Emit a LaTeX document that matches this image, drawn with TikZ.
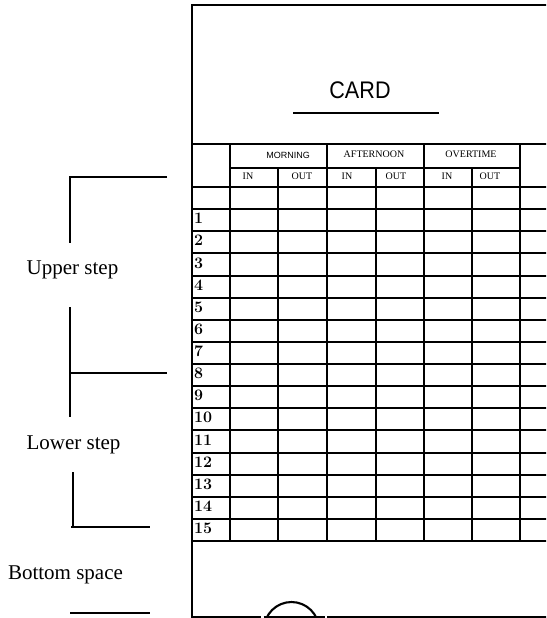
\documentclass[tikz,border=0pt]{standalone}
\usepackage{fontspec}
\newfontfamily\timesfont{Liberation Serif}
\newfontfamily\arialfont{Liberation Sans}
\tikzset{
  rule/.style={black, line width=2.1pt},
  bracket/.style={black, line width=1.3pt},
  sidelabel/.style={anchor=base, inner sep=0, font=\timesfont\fontsize{21}{24}\selectfont},
  headlabel/.style={anchor=base, inner sep=0, font=\timesfont\fontsize{10}{12}\selectfont},
  rownum/.style={anchor=base west, inner sep=0, font=\bfseries\fontsize{16}{19}\selectfont}
}

\begin{document}
\begin{tikzpicture}[x=1pt, y=-1pt]
\useasboundingbox (0,0) rectangle (546,618);
\clip (0,0) rectangle (546,618);
\draw[rule] (548,5) -- (192,5) -- (192,617) -- (261,617);
\draw[rule] (263.5,617) -- (324.5,617);
\draw[rule] (327,617) -- (548,617);
\begin{scope}
 \clip (255,590) rectangle (335,617);
 \draw[rule] (291.5,629.5) circle[radius=27.5];
\end{scope}
\node[anchor=base, inner sep=0, font=\arialfont\fontsize{24}{28}\selectfont] (card) at (360,98) {\scalebox{0.9}[1]{CARD}};
\draw[bracket] (293,113) -- (439,113);
\draw[rule] (192,144) -- (548,144);
\draw[rule] (230,168) -- (520,168);
\foreach \k in {0,...,16} {
 \pgfmathsetmacro{\yy}{round(187+\k*22.125)}
 \draw[rule] (192,\yy) -- (548,\yy);
}
\foreach \x in {230,327,424,520} {
 \draw[rule] (\x,144) -- (\x,541);
}
\foreach \x in {278,376,472} {
 \draw[rule] (\x,168) -- (\x,541);
}
\node[anchor=base, inner sep=0, font=\arialfont\fontsize{9}{11}\selectfont] (morning) at (288,158) {MORNING};
\node[headlabel] (afternoon) at (374,157.5) {AFTERNOON};
\node[headlabel] (overtime) at (471,157.5) {OVERTIME};
\foreach \x/\t [count=\i] in {248/IN,302/OUT,347/IN,396/OUT,447/IN,490/OUT} {
 \node[headlabel] (io\i) at (\x,179) {\t};
}
\foreach \k in {1,...,15} {
 \pgfmathsetmacro{\yy}{round(187+(\k+1)*22.125)-8}
 \node[rownum] (row\k) at (194,\yy) {\k};
}
\draw[bracket] (167,177) -- (70,177) -- (70,243);
\node[sidelabel] (upper) at (72.5,274) {Upper step};
\draw[bracket] (70,307) -- (70,417);
\draw[bracket] (70,373) -- (167,373);
\node[sidelabel] (lower) at (73.5,449) {Lower step};
\draw[bracket] (73,472) -- (73,527);
\draw[bracket] (71,527) -- (150,527);
\node[sidelabel] (bottom) at (65.5,579) {Bottom space};
\draw[bracket] (70,613) -- (150,613);
\end{tikzpicture}
\end{document}
